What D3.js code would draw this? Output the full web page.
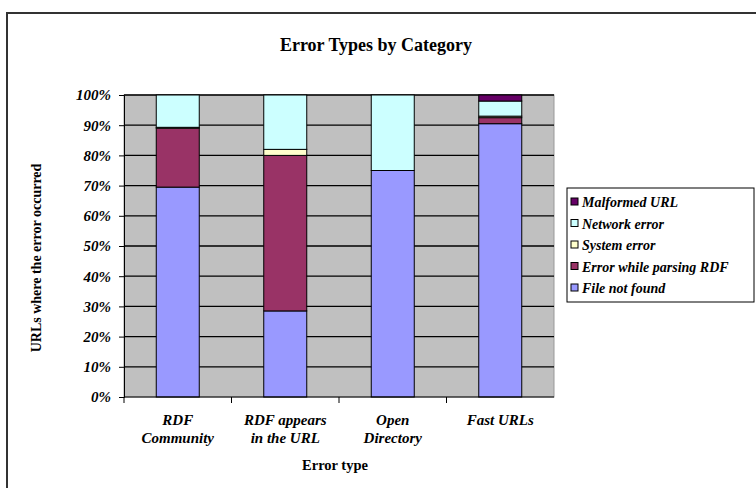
<!DOCTYPE html>
<html><head><meta charset="utf-8">
<script src="https://cdn.jsdelivr.net/npm/d3@7"></script>
<style>body{margin:0;background:#fff}svg{display:block}</style>
</head><body>
<svg id="c" width="756" height="488"></svg>
<script>
const categories = [["RDF","Community"],["RDF appears","in the URL"],["Open","Directory"],["Fast URLs"]];
const seriesNames = ["File not found","Error while parsing RDF","System error","Network error","Malformed URL"];
const fileNotFound = [69.5, 28.5, 75, 90.5];
const parseError = [19.5, 51.5, 0, 2];
const systemError = [0.3, 2, 0, 0.5];
const networkError = [10.7, 18, 25, 5];
const malformedURL = [0, 0, 0, 2];
const colors = ["#9999FF","#993366","#FFFFCC","#CCFFFF","#660066"];
const yTicks = [0,10,20,30,40,50,60,70,80,90,100];

const values = [fileNotFound, parseError, systemError, networkError, malformedURL];
const rows = categories.map((c,i)=>{const r={cat:i}; seriesNames.forEach((s,j)=>r[s]=values[j][i]); return r;});
const stack = d3.stack().keys(seriesNames)(rows);

const svg = d3.select("#c");
const font = "'Liberation Serif','Times New Roman',serif";
svg.append("rect").attr("x",7).attr("y",13).attr("width",800).attr("height",600)
  .attr("fill","#fff").attr("stroke","#333").attr("stroke-width",2);

const L=124,R=554,T=95,B=397;
const x = d3.scaleBand().domain(d3.range(categories.length)).range([L,R]).paddingInner(0.6).paddingOuter(0.3);
const xb = d3.scaleBand().domain(d3.range(categories.length)).range([L,R]);
const y = d3.scaleLinear().domain([0,100]).range([B,T]);

svg.append("rect").attr("x",L).attr("y",T).attr("width",R-L).attr("height",B-T).attr("fill","#C0C0C0").attr("stroke","#999").attr("stroke-width",1);
svg.append("g").selectAll("line").data(yTicks.filter(t=>t>0)).join("line")
  .attr("x1",L).attr("x2",R).attr("y1",d=>y(d)).attr("y2",d=>y(d)).attr("stroke","#000").attr("stroke-width",1.3);

const ya = svg.append("g").attr("transform",`translate(${L},0)`)
  .call(d3.axisLeft(y).tickValues(yTicks).tickFormat(d=>d+"%").tickSize(5).tickPadding(8));
ya.select(".domain").attr("stroke","#000");
ya.selectAll("text").attr("font-family",font).attr("font-weight","bold").attr("font-style","italic").attr("font-size",15).attr("fill","#000");

svg.append("g").selectAll("g").data(stack).join("g").attr("fill",(d,i)=>colors[i])
  .selectAll("rect").data(d=>d.filter(p=>p[1]-p[0]>0)).join("rect")
  .attr("x",d=>x(d.data.cat)).attr("width",x.bandwidth())
  .attr("y",d=>y(d[1])).attr("height",d=>y(d[0])-y(d[1]))
  .attr("stroke","#000").attr("stroke-width",1);

const xa = svg.append("g").attr("transform",`translate(0,${B})`);
xa.append("line").attr("x1",L).attr("x2",R).attr("stroke","#000");
xa.selectAll("line.t").data(d3.range(categories.length)).join("line").attr("class","t")
  .attr("x1",d=>xb(d)).attr("x2",d=>xb(d)).attr("y1",0).attr("y2",6).attr("stroke","#000");
const xl = svg.append("g").selectAll("text").data(categories).join("text")
  .attr("x",(d,i)=>xb(i)+xb.bandwidth()/2).attr("y",425)
  .attr("text-anchor","middle").attr("font-family",font).attr("font-weight","bold").attr("font-style","italic").attr("font-size",15);
xl.selectAll("tspan").data(d=>d).join("tspan").attr("x",function(){return this.parentNode.getAttribute("x");})
  .attr("dy",(d,i)=>i?18:0).text(d=>d);

svg.append("text").attr("x",335).attr("y",470).attr("text-anchor","middle").attr("font-family",font).attr("font-weight","bold").attr("font-size",14.5).text("Error type");
svg.append("text").attr("transform","translate(41,258) rotate(-90)").attr("text-anchor","middle").attr("font-family",font).attr("font-weight","bold").attr("font-size",14).text("URLs where the error occurred");
svg.append("text").attr("x",376).attr("y",51).attr("text-anchor","middle").attr("font-family",font).attr("font-weight","bold").attr("font-size",18).text("Error Types by Category");

const lg = svg.append("g");
lg.append("rect").attr("x",567).attr("y",188).attr("width",187).attr("height",114).attr("fill","#fff").attr("stroke","#000").attr("stroke-width",1);
const items = seriesNames.map((s,i)=>({s,c:colors[i]})).reverse();
const li = lg.selectAll("g").data(items).join("g").attr("transform",(d,i)=>`translate(571,${202+i*21.5})`);
li.append("rect").attr("x",0).attr("y",-4).attr("width",7).attr("height",7).attr("fill",d=>d.c).attr("stroke","#000");
li.append("text").attr("x",11).attr("y",5).attr("font-family",font).attr("font-weight","bold").attr("font-style","italic").attr("font-size",14).text(d=>d.s);
</script>
</body></html>
